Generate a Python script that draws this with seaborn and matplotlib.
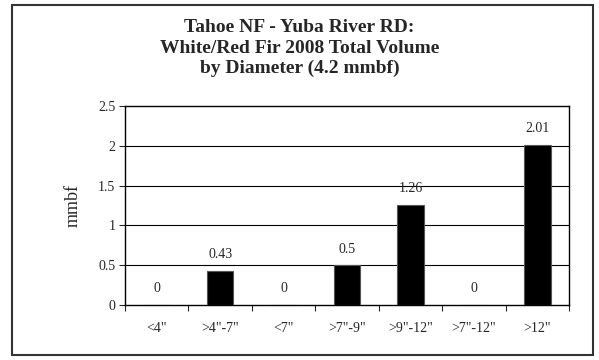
import matplotlib
matplotlib.use("Agg")
import matplotlib.pyplot as plt
import seaborn as sns
import pandas as pd
from matplotlib.patches import Rectangle

# diameter classes and volumes (mmbf)
classes = ['<4"', '>4"-7"', '<7"', '>7"-9"', '>9"-12"', '>7"-12"', '>12"']
volumes = [0, 0.43, 0, 0.5, 1.26, 0, 2.01]
value_labels = ["0", "0.43", "0", "0.5", "1.26", "0", "2.01"]

sns.set_style("white")
plt.rcParams['font.family'] = ['Liberation Serif', 'DejaVu Serif']

df = pd.DataFrame({"cls": classes, "vol": volumes})

fig = plt.figure(figsize=(5.99, 3.6), dpi=100)
ax = fig.add_axes([125/599, 1-305/360, (569-125)/599, (305-106)/360])

sns.barplot(data=df, x="cls", y="vol", color="black", width=0.42,
            edgecolor="#555555", linewidth=0.8, ax=ax, zorder=3)

ax.set_ylim(0, 2.5)
ax.set_yticks([0, 0.5, 1, 1.5, 2, 2.5])
ax.set_yticklabels(["0", "0.5", "1", "1.5", "2", "2.5"], fontsize=10)
ax.set_xlim(-0.5, len(classes) - 0.5)
ax.set_xticks(range(len(classes)))
ax.set_xticklabels(classes, fontsize=10)
ax.tick_params(axis="x", which="major", length=0, pad=12)
ax.set_xticks([i + 0.5 for i in range(-1, len(classes))], minor=True)
ax.tick_params(axis="x", which="minor", length=4, width=0.8, direction="out", bottom=True)
ax.tick_params(axis="y", length=4, width=0.8, direction="out", left=True, pad=3)

for y in [0.5, 1, 1.5, 2]:
    ax.axhline(y, color="black", linewidth=0.8, zorder=1)

for sp in ax.spines.values():
    sp.set_visible(True)
    sp.set_color("black")
    sp.set_linewidth(1.0)

for i, (v, lab) in enumerate(zip(volumes, value_labels)):
    ax.text(i, v + 0.12, lab, ha="center", va="bottom", fontsize=10)

ax.set_xlabel("")
ax.set_ylabel("mmbf", fontsize=13, labelpad=12)

fig.text(0.5, 1 - 19/360,
         "Tahoe NF - Yuba River RD:\nWhite/Red Fir 2008 Total Volume\nby Diameter (4.2 mmbf)",
         ha="center", va="top", fontsize=14, fontweight="bold", linespacing=1.27)

fig.patches.append(Rectangle((12/599, 5/360), (593-12)/599, (355-5)/360,
                             transform=fig.transFigure, fill=False,
                             edgecolor="#333333", linewidth=1.5))

fig.savefig("out.png", dpi=100)
